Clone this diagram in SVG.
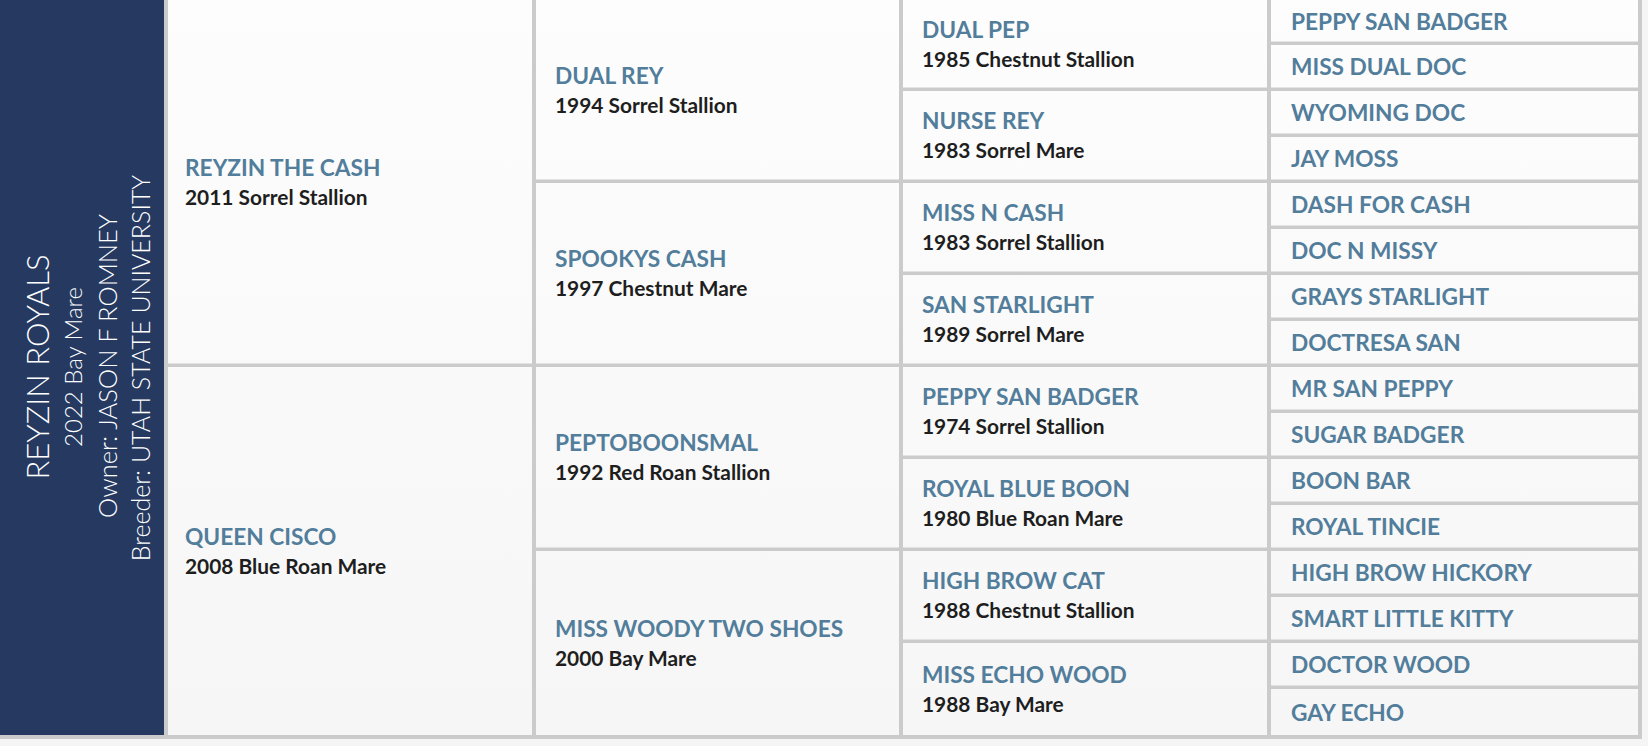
<svg xmlns="http://www.w3.org/2000/svg" width="1648" height="746" viewBox="0 0 1648 746">
<defs>
<linearGradient id="cellbg" gradientUnits="userSpaceOnUse" x1="0" y1="0" x2="0" y2="735">
<stop offset="0" stop-color="#fdfdfd"/>
<stop offset="1" stop-color="#f6f6f6"/>
</linearGradient>
</defs>
<style>
.cell{fill:url(#cellbg)}
.nm{font-family:Lato,"Liberation Sans",sans-serif;font-weight:700;font-size:22.7px;fill:#527d9b}
.sb{font-family:Lato,"Liberation Sans",sans-serif;font-weight:700;font-size:20.9px;fill:#1e1e1e}
.vt{font-family:Lato,"Liberation Sans",sans-serif;font-weight:300;fill:#ffffff;text-anchor:middle}
</style>
<rect x="0" y="0" width="1648" height="746" fill="#f5f5f5"/>
<rect x="0" y="0" width="1642" height="739" fill="#cbcbcb"/>

<g id="subject">
<rect x="0" y="0" width="164" height="735" fill="#253961"/>
<text class="vt" font-size="31" transform="translate(49,367) rotate(-90)">REYZIN ROYALS</text>
<text class="vt" font-size="24" transform="translate(82,367) rotate(-90)">2022 Bay Mare</text>
<text class="vt" font-size="25.5" transform="translate(117,366) rotate(-90)">Owner: JASON F ROMNEY</text>
<text class="vt" font-size="25" transform="translate(150,368) rotate(-90)">Breeder: UTAH STATE UNIVERSITY</text>
</g>

<g id="connectors"></g>

<g id="sire">
<rect class="cell" x="168" y="0" width="364" height="363.5"/>
<text class="nm" x="185" y="175.75">REYZIN THE CASH</text>
<text class="sb" x="185" y="204.75">2011 Sorrel Stallion</text>
</g>
<g id="dam">
<rect class="cell" x="168" y="367" width="364" height="368"/>
<text class="nm" x="185" y="545">QUEEN CISCO</text>
<text class="sb" x="185" y="574">2008 Blue Roan Mare</text>
</g>

<g id="ss">
<rect class="cell" x="536" y="0" width="363" height="179.5"/>
<text class="nm" x="555" y="83.75">DUAL REY</text>
<text class="sb" x="555" y="112.75">1994 Sorrel Stallion</text>
</g>
<g id="sd">
<rect class="cell" x="536" y="183" width="363" height="180.5"/>
<text class="nm" x="555" y="267.25">SPOOKYS CASH</text>
<text class="sb" x="555" y="296.25">1997 Chestnut Mare</text>
</g>
<g id="ds">
<rect class="cell" x="536" y="367" width="363" height="180.5"/>
<text class="nm" x="555" y="451.25">PEPTOBOONSMAL</text>
<text class="sb" x="555" y="480.25">1992 Red Roan Stallion</text>
</g>
<g id="dd">
<rect class="cell" x="536" y="551" width="363" height="184"/>
<text class="nm" x="555" y="637">MISS WOODY TWO SHOES</text>
<text class="sb" x="555" y="666">2000 Bay Mare</text>
</g>

<g id="sss">
<rect class="cell" x="903" y="0" width="364" height="87.5"/>
<text class="nm" x="922" y="37.75">DUAL PEP</text>
<text class="sb" x="922" y="66.75">1985 Chestnut Stallion</text>
</g>
<g id="ssd">
<rect class="cell" x="903" y="91" width="364" height="88.5"/>
<text class="nm" x="922" y="129.25">NURSE REY</text>
<text class="sb" x="922" y="158.25">1983 Sorrel Mare</text>
</g>
<g id="sds">
<rect class="cell" x="903" y="183" width="364" height="88.5"/>
<text class="nm" x="922" y="221.25">MISS N CASH</text>
<text class="sb" x="922" y="250.25">1983 Sorrel Stallion</text>
</g>
<g id="sdd">
<rect class="cell" x="903" y="275" width="364" height="88.5"/>
<text class="nm" x="922" y="313.25">SAN STARLIGHT</text>
<text class="sb" x="922" y="342.25">1989 Sorrel Mare</text>
</g>
<g id="dss">
<rect class="cell" x="903" y="367" width="364" height="88.5"/>
<text class="nm" x="922" y="405.25">PEPPY SAN BADGER</text>
<text class="sb" x="922" y="434.25">1974 Sorrel Stallion</text>
</g>
<g id="dsd">
<rect class="cell" x="903" y="459" width="364" height="88.5"/>
<text class="nm" x="922" y="497.25">ROYAL BLUE BOON</text>
<text class="sb" x="922" y="526.25">1980 Blue Roan Mare</text>
</g>
<g id="dds">
<rect class="cell" x="903" y="551" width="364" height="88.5"/>
<text class="nm" x="922" y="589.25">HIGH BROW CAT</text>
<text class="sb" x="922" y="618.25">1988 Chestnut Stallion</text>
</g>
<g id="ddd">
<rect class="cell" x="903" y="643" width="364" height="92"/>
<text class="nm" x="922" y="683">MISS ECHO WOOD</text>
<text class="sb" x="922" y="712">1988 Bay Mare</text>
</g>

<g id="g4-1"><rect class="cell" x="1271" y="0" width="367" height="41.5"/><text class="nm" x="1291" y="29.75">PEPPY SAN BADGER</text></g>
<g id="g4-2"><rect class="cell" x="1271" y="45" width="367" height="42.5"/><text class="nm" x="1291" y="75.25">MISS DUAL DOC</text></g>
<g id="g4-3"><rect class="cell" x="1271" y="91" width="367" height="42.5"/><text class="nm" x="1291" y="121.25">WYOMING DOC</text></g>
<g id="g4-4"><rect class="cell" x="1271" y="137" width="367" height="42.5"/><text class="nm" x="1291" y="167.25">JAY MOSS</text></g>
<g id="g4-5"><rect class="cell" x="1271" y="183" width="367" height="42.5"/><text class="nm" x="1291" y="213.25">DASH FOR CASH</text></g>
<g id="g4-6"><rect class="cell" x="1271" y="229" width="367" height="42.5"/><text class="nm" x="1291" y="259.25">DOC N MISSY</text></g>
<g id="g4-7"><rect class="cell" x="1271" y="275" width="367" height="42.5"/><text class="nm" x="1291" y="305.25">GRAYS STARLIGHT</text></g>
<g id="g4-8"><rect class="cell" x="1271" y="321" width="367" height="42.5"/><text class="nm" x="1291" y="351.25">DOCTRESA SAN</text></g>
<g id="g4-9"><rect class="cell" x="1271" y="367" width="367" height="42.5"/><text class="nm" x="1291" y="397.25">MR SAN PEPPY</text></g>
<g id="g4-10"><rect class="cell" x="1271" y="413" width="367" height="42.5"/><text class="nm" x="1291" y="443.25">SUGAR BADGER</text></g>
<g id="g4-11"><rect class="cell" x="1271" y="459" width="367" height="42.5"/><text class="nm" x="1291" y="489.25">BOON BAR</text></g>
<g id="g4-12"><rect class="cell" x="1271" y="505" width="367" height="42.5"/><text class="nm" x="1291" y="535.25">ROYAL TINCIE</text></g>
<g id="g4-13"><rect class="cell" x="1271" y="551" width="367" height="42.5"/><text class="nm" x="1291" y="581.25">HIGH BROW HICKORY</text></g>
<g id="g4-14"><rect class="cell" x="1271" y="597" width="367" height="42.5"/><text class="nm" x="1291" y="627.25">SMART LITTLE KITTY</text></g>
<g id="g4-15"><rect class="cell" x="1271" y="643" width="367" height="42.5"/><text class="nm" x="1291" y="673.25">DOCTOR WOOD</text></g>
<g id="g4-16"><rect class="cell" x="1271" y="689" width="367" height="46"/><text class="nm" x="1291" y="721">GAY ECHO</text></g>
</svg>
